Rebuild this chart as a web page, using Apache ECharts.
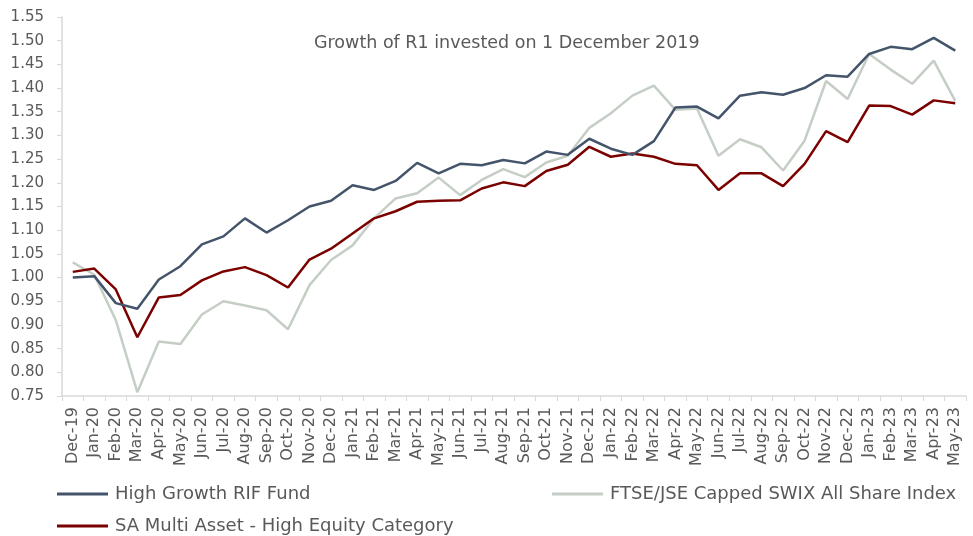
<!DOCTYPE html>
<html>
<head>
<meta charset="utf-8">
<script src="https://cdn.jsdelivr.net/npm/echarts@6/dist/echarts.min.js"></script>
<style>
html, body { margin: 0; padding: 0; background: #fff; }
#container { width: 973px; height: 536px; }
</style>
</head>
<body>
<div id="container"></div>
<script>
var months = ['Dec-19','Jan-20','Feb-20','Mar-20','Apr-20','May-20','Jun-20','Jul-20','Aug-20','Sep-20','Oct-20','Nov-20','Dec-20',
    'Jan-21','Feb-21','Mar-21','Apr-21','May-21','Jun-21','Jul-21','Aug-21','Sep-21','Oct-21','Nov-21','Dec-21',
    'Jan-22','Feb-22','Mar-22','Apr-22','May-22','Jun-22','Jul-22','Aug-22','Sep-22','Oct-22','Nov-22','Dec-22',
    'Jan-23','Feb-23','Mar-23','Apr-23','May-23'];

var rifFund = [1.000,1.003,0.946,0.934,0.996,1.024,1.070,1.087,1.125,1.095,1.121,1.150,1.162,
    1.195,1.185,1.204,1.242,1.220,1.240,1.237,1.248,1.241,1.266,1.259,1.293,
    1.272,1.259,1.288,1.359,1.361,1.336,1.384,1.391,1.386,1.400,1.427,1.424,
    1.472,1.487,1.482,1.506,1.479];

var swixIndex = [1.032,1.006,0.910,0.758,0.865,0.860,0.922,0.950,0.941,0.931,0.891,0.984,1.037,
    1.068,1.125,1.167,1.178,1.211,1.174,1.206,1.229,1.212,1.243,1.257,1.316,
    1.347,1.384,1.405,1.354,1.357,1.257,1.292,1.275,1.226,1.289,1.415,1.377,
    1.472,1.439,1.409,1.458,1.373];

var multiAsset = [1.012,1.019,0.975,0.874,0.958,0.963,0.994,1.013,1.022,1.005,0.979,1.038,1.061,
    1.093,1.125,1.140,1.160,1.162,1.163,1.188,1.201,1.193,1.225,1.238,1.276,
    1.255,1.262,1.255,1.240,1.237,1.185,1.220,1.220,1.193,1.240,1.309,1.286,
    1.363,1.362,1.344,1.374,1.368];

var names = ['High Growth RIF Fund', 'FTSE/JSE Capped SWIX All Share Index', 'SA Multi Asset - High Equity Category'];

var dom = document.getElementById('container');
var myChart = echarts.init(dom);
var txt = '#595959';
var font = 'DejaVu Sans';

function legendAt(name, left, top) {
    return {
        data: [name],
        left: left,
        top: top,
        padding: 0,
        icon: 'rect',
        itemWidth: 51,
        itemHeight: 3,
        itemGap: 6,
        textStyle: { color: txt, fontSize: 18, fontFamily: font, padding: [0, 0, 0, 2] }
    };
}

var option = {
    animation: false,
    color: ['#44546A', '#C5CEC5', '#7B0000'],
    title: {
        text: 'Growth of R1 invested on 1 December 2019',
        left: 309,
        top: 29,
        textStyle: { color: txt, fontSize: 17.5, fontWeight: 'normal', fontFamily: font }
    },
    legend: [
        legendAt(names[0], 57, 485),
        legendAt(names[1], 552, 485),
        legendAt(names[2], 57, 517)
    ],
    grid: { left: 62, right: 7, top: 17, bottom: 140, containLabel: false },
    xAxis: {
        type: 'category',
        data: months,
        boundaryGap: true,
        axisLine: { lineStyle: { color: '#D9D9D9', width: 1.5 } },
        axisTick: { show: true, length: 5, lineStyle: { color: '#D9D9D9' } },
        axisLabel: { rotate: 90, interval: 0, color: txt, fontSize: 16, fontFamily: font, margin: 11 }
    },
    yAxis: {
        type: 'value',
        min: 0.75,
        max: 1.55,
        interval: 0.05,
        axisLine: { show: true, lineStyle: { color: '#D9D9D9', width: 1.5 } },
        axisTick: { show: true, length: 5, lineStyle: { color: '#D9D9D9' } },
        splitLine: { show: false },
        axisLabel: {
            color: txt, fontSize: 15, fontFamily: font, margin: 18,
            formatter: function (v) { return v.toFixed(2); }
        }
    },
    series: [
        { name: names[0], type: 'line', data: rifFund, symbol: 'none', lineStyle: { width: 2.5 }, z: 3 },
        { name: names[1], type: 'line', data: swixIndex, symbol: 'none', lineStyle: { width: 2.5 }, z: 1 },
        { name: names[2], type: 'line', data: multiAsset, symbol: 'none', lineStyle: { width: 2.5 }, z: 2 }
    ]
};

if (option && typeof option === 'object') {
    myChart.setOption(option, true);
}
</script>
</body>
</html>
